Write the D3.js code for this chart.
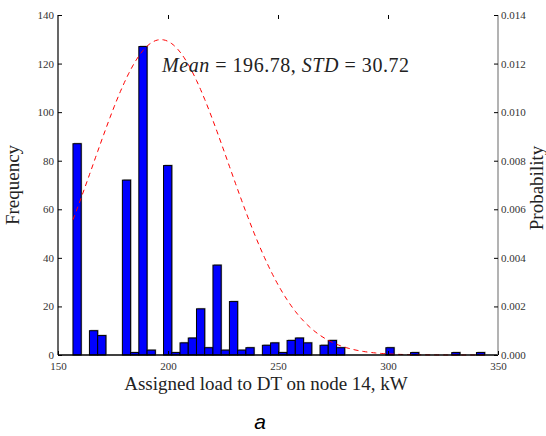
<!DOCTYPE html>
<html>
<head>
<meta charset="utf-8">
<script src="https://cdn.jsdelivr.net/npm/d3@7"></script>
<style>
  body { margin: 0; background: #fff; }
  text { font-family: "Liberation Serif", "DejaVu Serif", serif; fill: #222; }
</style>
</head>
<body>
<div class="hist"></div>
<script>
// histogram counts (50 equal bins between histMin and histMax)
var histMin = 156.8, histMax = 343.95;
var counts = [87, 0, 10, 8, 0, 0, 72, 1, 127, 2,
              0, 78, 1, 5, 7, 19, 3, 37, 2, 22,
              2, 3, 0, 4, 5, 1, 6, 7, 5, 0,
              4, 6, 3, 0, 0, 0, 0, 0, 3, 0,
              0, 1, 0, 0, 0, 0, 1, 0, 0, 1];
var mean = 196.78, std = 30.72;
var xTicks = [150, 200, 250, 300, 350];
var yTicks = [0, 20, 40, 60, 80, 100, 120, 140];
var pTicks = [0, 0.002, 0.004, 0.006, 0.008, 0.010, 0.012, 0.014];

// set the dimensions and margins of the graph
var margin = {top: 15, right: 48, bottom: 81, left: 58},
    width = 546 - margin.left - margin.right,
    height = 436 - margin.top - margin.bottom;

var x = d3.scaleLinear().domain([150, 350]).range([0, width]);
var y = d3.scaleLinear().domain([0, 140]).range([height, 0]);
var y2 = d3.scaleLinear().domain([0, 0.014]).range([height, 0]);

var svg = d3.select(".hist").append("svg")
    .attr("width", 546)
    .attr("height", 436)
  .append("g")
    .attr("transform", "translate(" + margin.left + "," + margin.top + ")");

var binW = (histMax - histMin) / counts.length;
var bins = counts.map(function(c, i) {
  return {x0: histMin + i * binW, x1: histMin + (i + 1) * binW, n: c};
}).filter(function(d) { return d.n > 0; });

// bar shadows
svg.selectAll(".shadow")
    .data(bins)
  .enter().append("rect")
    .attr("class", "shadow")
    .attr("x", function(d) { return x(d.x0) + 1; })
    .attr("y", function(d) { return y(d.n) - 1; })
    .attr("width", function(d) { return x(d.x1) - x(d.x0); })
    .attr("height", function(d) { return height - y(d.n); })
    .style("fill", "#b0b0b0");

// bars
svg.selectAll(".bar")
    .data(bins)
  .enter().append("rect")
    .attr("class", "bar")
    .attr("x", function(d) { return x(d.x0); })
    .attr("y", function(d) { return y(d.n); })
    .attr("width", function(d) { return x(d.x1) - x(d.x0); })
    .attr("height", function(d) { return height - y(d.n); })
    .style("fill", "#0000ff")
    .style("stroke", "#000")
    .style("stroke-width", 1);

// normal fit curve
var pdf = function(v) {
  return Math.exp(-0.5 * Math.pow((v - mean) / std, 2)) / (std * Math.sqrt(2 * Math.PI));
};
var curve = d3.range(0, 201).map(function(i) {
  var v = histMin + (histMax - histMin) * i / 200;
  return {v: v, p: pdf(v)};
});
svg.append("path")
    .datum(curve)
    .attr("d", d3.line()
        .x(function(d) { return x(d.v); })
        .y(function(d) { return y2(d.p); }))
    .style("fill", "none")
    .style("stroke", "#ff0000")
    .style("stroke-width", 1)
    .style("stroke-dasharray", "5,4");

// spines
svg.append("line").attr("x1", 0).attr("x2", 0).attr("y1", 0).attr("y2", height)
    .style("stroke", "#000").style("stroke-width", 1.2);
svg.append("line").attr("x1", 0).attr("x2", width).attr("y1", height).attr("y2", height)
    .style("stroke", "#000").style("stroke-width", 1.5);
svg.append("line").attr("x1", width).attr("x2", width).attr("y1", 0).attr("y2", height)
    .style("stroke", "#808080").style("stroke-width", 1.2);

// Add the X Axis (ticks inside, top and bottom)
var xAxis = svg.append("g")
    .attr("transform", "translate(0," + height + ")")
    .call(d3.axisBottom(x).tickValues(xTicks).tickSize(-4).tickPadding(7).tickFormat(d3.format("d")));
xAxis.select(".domain").remove();
svg.append("g")
    .call(d3.axisTop(x).tickValues(xTicks.slice(1, 4)).tickSize(-4).tickFormat(""))
    .select(".domain").remove();

// Add the Y Axis
var yAxis = svg.append("g")
    .call(d3.axisLeft(y).tickValues(yTicks).tickSize(-4).tickPadding(4).tickFormat(d3.format("d")));
yAxis.select(".domain").remove();

// Add the probability axis
var pAxis = svg.append("g")
    .attr("transform", "translate(" + width + ",0)")
    .call(d3.axisRight(y2).tickValues(pTicks).tickSize(-4).tickPadding(3).tickFormat(d3.format(".3f")));
pAxis.select(".domain").remove();

svg.selectAll(".tick text").style("font-size", "11px").style("font-family", "'Liberation Serif', serif").style("fill", "#333");
svg.selectAll(".tick line").style("stroke", "#000");

// labels
svg.append("text")
    .attr("x", 208)
    .attr("y", height + 35)
    .attr("text-anchor", "middle")
    .style("font-size", "19px")
    .text("Assigned load to DT on node 14, kW");

svg.append("text")
    .attr("transform", "translate(" + (-39) + "," + (height / 2) + ") rotate(-90)")
    .attr("text-anchor", "middle")
    .style("font-size", "19px")
    .text("Frequency");

svg.append("text")
    .attr("transform", "translate(" + (width + 45) + "," + (height / 2 + 3) + ") rotate(-90)")
    .attr("text-anchor", "middle")
    .style("font-size", "19px")
    .text("Probability");

// annotation
var ann = svg.append("text")
    .attr("x", 104)
    .attr("y", 57)
    .attr("textLength", 247)
    .attr("lengthAdjust", "spacing")
    .style("font-size", "20px");
ann.append("tspan").style("font-style", "italic").text("Mean");
ann.append("tspan").text(" = 196.78,  ");
ann.append("tspan").style("font-style", "italic").text("STD");
ann.append("tspan").text(" = 30.72");

// subfigure letter
svg.append("text")
    .attr("x", 202)
    .attr("y", 414)
    .attr("text-anchor", "middle")
    .style("font-family", "'Liberation Sans', Arial, sans-serif")
    .style("font-style", "italic")
    .style("font-size", "21px")
    .style("fill", "#000")
    .text("a");
</script>
</body>
</html>
